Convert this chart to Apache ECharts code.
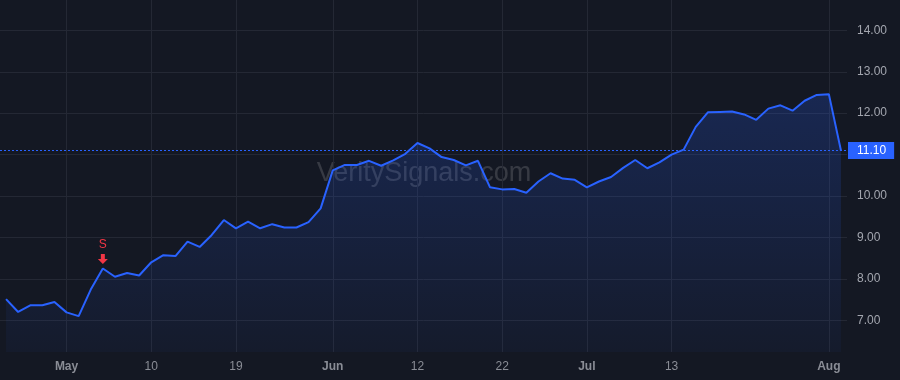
<!DOCTYPE html>
<html>
<head>
<meta charset="utf-8">
<script src="https://cdn.jsdelivr.net/npm/echarts@6/dist/echarts.min.js"></script>
<style>
  html, body { margin: 0; padding: 0; background: #141823; }
  #chart { width: 900px; height: 380px; }
</style>
</head>
<body>
<div id="chart"></div>
<script>
// trading days, Apr 24 - Aug 2 2023
var dates = [
  '2023-04-24','2023-04-25','2023-04-26','2023-04-27','2023-04-28',
  '2023-05-01','2023-05-02','2023-05-03','2023-05-04','2023-05-05','2023-05-08','2023-05-09','2023-05-10',
  '2023-05-11','2023-05-12','2023-05-15','2023-05-16','2023-05-17','2023-05-18','2023-05-19','2023-05-22',
  '2023-05-23','2023-05-24','2023-05-25','2023-05-26','2023-05-30','2023-05-31',
  '2023-06-01','2023-06-02','2023-06-05','2023-06-06','2023-06-07','2023-06-08','2023-06-09','2023-06-12',
  '2023-06-13','2023-06-14','2023-06-15','2023-06-16','2023-06-20','2023-06-21','2023-06-22','2023-06-23',
  '2023-06-26','2023-06-27','2023-06-28','2023-06-29','2023-06-30',
  '2023-07-03','2023-07-05','2023-07-06','2023-07-07','2023-07-10','2023-07-11','2023-07-12','2023-07-13',
  '2023-07-14','2023-07-17','2023-07-18','2023-07-19','2023-07-20','2023-07-21','2023-07-24','2023-07-25',
  '2023-07-26','2023-07-27','2023-07-28','2023-07-31',
  '2023-08-01','2023-08-02'
];
var closes = [
  7.51, 7.20, 7.36, 7.36, 7.44,
  7.19, 7.10, 7.74, 8.25, 8.05, 8.14, 8.08, 8.40,
  8.57, 8.55, 8.90, 8.77, 9.06, 9.42, 9.22, 9.38,
  9.22, 9.32, 9.24, 9.24, 9.37, 9.70,
  10.62, 10.75, 10.75, 10.85, 10.73, 10.86, 11.02, 11.28,
  11.15, 10.94, 10.87, 10.74, 10.85, 10.21, 10.16, 10.17,
  10.08, 10.35, 10.55, 10.42, 10.39,
  10.21, 10.35, 10.46, 10.68, 10.87, 10.67, 10.81, 11.00,
  11.12, 11.67, 12.02, 12.03, 12.04, 11.97, 11.84, 12.11,
  12.19, 12.06, 12.30, 12.44, 12.46, 11.10
];
var tickDates = ['2023-05-01','2023-05-10','2023-05-19','2023-06-01','2023-06-12','2023-06-22','2023-07-03','2023-07-13','2023-08-01'];
var tickTexts = ['May','10','19','Jun','12','22','Jul','13','Aug'];
var priceTicks = [7, 8, 9, 10, 11, 12, 13, 14];
var priceLabels = [7, 8, 9, 10, 12, 13, 14];
var signalDate = '2023-05-04';
var signalText = 'S';
var lastPrice = 11.10;

var tickIdx = tickDates.map(function (d) { return dates.indexOf(d); });
var seriesData = closes.map(function (v, i) { return [i, v]; });
var sIdx = dates.indexOf(signalDate);

var myChart = echarts.init(document.getElementById('chart'));

var font = '"Liberation Sans", Arial, sans-serif';

option = {
    backgroundColor: '#141823',
    animation: false,
    grid: { left: 0, right: 53, top: 0, bottom: 28 },
    graphic: [{
        type: 'text',
        x: 424,
        y: 174,
        z: -10,
        style: {
            text: 'VeritySignals.com',
            fill: 'rgba(255,255,255,0.15)',
            font: '27px ' + font,
            align: 'center',
            verticalAlign: 'middle'
        }
    }],
    xAxis: {
        type: 'value',
        min: -0.5,
        max: dates.length - 0.5,
        axisLine: { show: false },
        axisTick: { show: false, customValues: tickIdx },
        splitLine: { show: true, lineStyle: { color: '#242834', width: 1 } },
        axisLabel: {
            customValues: tickIdx,
            margin: 9,
            color: '#8a8d96',
            fontSize: 12,
            fontFamily: font,
            formatter: function (v) {
                var k = tickIdx.indexOf(Math.round(v));
                var t = k >= 0 ? tickTexts[k] : '';
                return isNaN(+t) ? '{b|' + t + '}' : t;
            },
            rich: { b: { fontWeight: 'bold', color: '#8a8d96', fontSize: 12, fontFamily: font } }
        }
    },
    yAxis: {
        type: 'value',
        position: 'right',
        min: 6.233,
        max: 14.733,
        axisLine: { show: false },
        axisTick: { show: false, customValues: priceTicks },
        splitLine: { show: true, lineStyle: { color: '#242834', width: 1 } },
        axisLabel: {
            customValues: priceLabels,
            margin: 10,
            color: '#a3a6af',
            fontSize: 12,
            fontFamily: font,
            formatter: function (v) { return v.toFixed(2); }
        }
    },
    series: [{
        type: 'line',
        data: seriesData,
        symbol: 'none',
        lineStyle: { color: '#2962ff', width: 2 },
        areaStyle: {
            color: new echarts.graphic.LinearGradient(0, 0, 0, 1, [
                { offset: 0, color: 'rgba(41,98,255,0.30)' },
                { offset: 1, color: 'rgba(41,98,255,0.06)' }
            ])
        },
        markLine: {
            silent: true,
            symbol: 'none',
            lineStyle: { color: '#2962ff', type: [2, 2], width: 1 },
            label: {
                show: true,
                position: 'end',
                distance: 1,
                formatter: lastPrice.toFixed(2),
                color: '#ffffff',
                backgroundColor: '#2962ff',
                fontSize: 12,
                fontFamily: font,
                padding: [3, 8, 2, 9]
            },
            data: [{ yAxis: lastPrice }]
        },
        markPoint: {
            silent: true,
            symbol: 'path://M3,0 L7,0 L7,5 L10,5 L5,10 L0,5 L3,5 Z',
            symbolSize: [10, 10],
            symbolOffset: [0, -9.5],
            itemStyle: { color: '#f23645' },
            label: {
                show: true,
                position: 'top',
                distance: 3,
                formatter: signalText,
                color: '#f23645',
                fontSize: 12,
                fontFamily: font
            },
            data: [{ coord: [sIdx, closes[sIdx]] }]
        }
    }]
};

myChart.setOption(option);
</script>
</body>
</html>
